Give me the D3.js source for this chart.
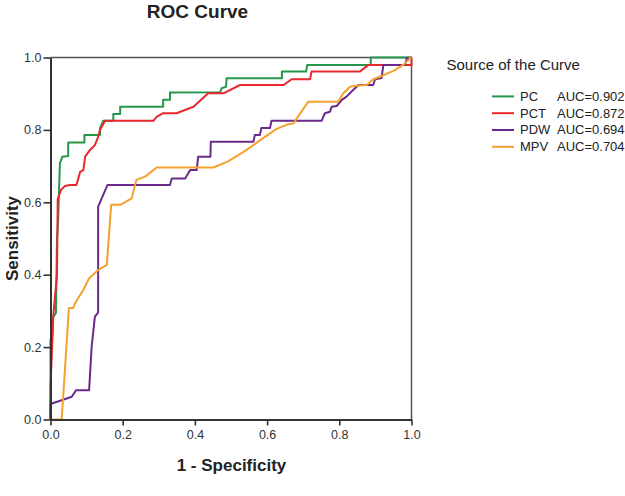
<!DOCTYPE html>
<html>
<head>
<meta charset="utf-8">
<script src="https://cdn.jsdelivr.net/npm/d3@7"></script>
<style>
  html, body { margin: 0; padding: 0; background: #fff; }
  svg { display: block; font-family: "Liberation Sans", Arial, sans-serif; }
</style>
</head>
<body>
<svg id="chart" width="625" height="496"></svg>
<script>
// ---- Data ----
const seriesNames = ["PC", "PCT", "PDW", "MPV"];
const aucLabels = ["AUC=0.902", "AUC=0.872", "AUC=0.694", "AUC=0.704"];
const seriesColors = ["#25964a", "#e8282d", "#6b2a8a", "#f4a12f"];
const tickValues = [0, 0.2, 0.4, 0.6, 0.8, 1.0];

// [1 - specificity, sensitivity]
const pcPoints = [
  [0,0],[0,0.22],[0.005,0.233],[0.005,0.28],[0.015,0.294],[0.018,0.496],[0.021,0.546],
  [0.026,0.708],[0.033,0.726],[0.049,0.728],[0.049,0.765],[0.094,0.765],[0.094,0.786],
  [0.137,0.786],[0.137,0.804],[0.146,0.825],[0.174,0.825],[0.174,0.844],[0.193,0.844],
  [0.193,0.864],[0.312,0.864],[0.312,0.883],[0.331,0.883],[0.331,0.903],[0.470,0.904],
  [0.474,0.915],[0.486,0.919],[0.488,0.943],[0.641,0.943],[0.641,0.961],[0.708,0.961],
  [0.711,0.979],[0.887,0.979],[0.887,1.0],[1,1]
];
const pctPoints = [
  [0,0],[0,0.09],[0.004,0.19],[0.008,0.29],[0.018,0.40],[0.02,0.609],[0.029,0.634],
  [0.04,0.645],[0.054,0.648],[0.072,0.648],[0.082,0.684],[0.091,0.689],[0.096,0.726],
  [0.109,0.744],[0.123,0.758],[0.132,0.781],[0.137,0.800],[0.151,0.825],[0.285,0.825],
  [0.294,0.836],[0.312,0.846],[0.349,0.846],[0.396,0.864],[0.437,0.901],[0.479,0.901],
  [0.525,0.924],[0.646,0.924],[0.668,0.940],[0.719,0.940],[0.723,0.961],[0.857,0.961],
  [0.880,0.979],[1,0.979],[1,1]
];
const pdwPoints = [
  [0,0],[0,0.043],[0.059,0.063],[0.071,0.081],[0.107,0.081],[0.114,0.201],[0.123,0.284],
  [0.132,0.296],[0.132,0.588],[0.158,0.648],[0.331,0.648],[0.336,0.666],[0.373,0.666],
  [0.387,0.689],[0.405,0.689],[0.409,0.726],[0.443,0.726],[0.444,0.767],[0.562,0.767],
  [0.566,0.786],[0.580,0.786],[0.584,0.805],[0.608,0.805],[0.612,0.825],[0.751,0.825],
  [0.760,0.846],[0.774,0.850],[0.779,0.864],[0.793,0.866],[0.807,0.883],[0.820,0.892],
  [0.834,0.906],[0.848,0.919],[0.853,0.924],[0.894,0.924],[0.899,0.940],[0.917,0.943],
  [0.922,0.979],[0.982,0.979],[0.987,0.998],[1,1]
];
const mpvPoints = [
  [0,0],[0.031,0],[0.051,0.308],[0.063,0.308],[0.068,0.321],[0.082,0.344],[0.091,0.358],
  [0.107,0.390],[0.132,0.413],[0.156,0.427],[0.168,0.593],[0.193,0.593],[0.225,0.611],
  [0.238,0.662],[0.262,0.671],[0.294,0.696],[0.451,0.696],[0.492,0.713],[0.539,0.742],
  [0.580,0.771],[0.625,0.802],[0.654,0.814],[0.673,0.818],[0.714,0.878],[0.797,0.878],
  [0.811,0.901],[0.830,0.919],[0.846,0.922],[0.876,0.924],[0.894,0.940],[0.917,0.949],
  [0.954,0.965],[0.979,0.981],[0.996,0.998],[1,1]
];
const allSeries = [pcPoints, pctPoints, pdwPoints, mpvPoints];

// ---- Layout ----
const svg = d3.select("#chart");
const plotL = 50.5, plotR = 411.5, plotT = 57.5, plotB = 419.5;

const x = d3.scaleLinear().domain([0, 1]).range([plotL, plotR]);
const y = d3.scaleLinear().domain([0, 1]).range([plotB, plotT]);

// frame (top & right)
svg.append("path")
  .attr("d", `M${plotL},${plotT}H${plotR}V${plotB}`)
  .attr("fill", "none").attr("stroke", "#555").attr("stroke-width", 1.5);

// curves
const line = d3.line().x(d => x(d[0])).y(d => y(d[1])).curve(d3.curveLinear);
allSeries.forEach((pts, i) => {
  svg.append("path")
    .datum(pts)
    .attr("d", line)
    .attr("fill", "none")
    .attr("stroke", seriesColors[i])
    .attr("stroke-width", 2)
    .attr("stroke-linejoin", "round");
});

// axes
const fmt = d3.format(".1f");
const xAxis = svg.append("g")
  .attr("transform", `translate(0,${plotB})`)
  .call(d3.axisBottom(x).tickValues(tickValues).tickFormat(fmt).tickSize(6).tickSizeOuter(0));
const yAxis = svg.append("g")
  .attr("transform", `translate(${plotL},0)`)
  .call(d3.axisLeft(y).tickValues(tickValues).tickFormat(fmt).tickSize(7).tickSizeOuter(0));

[xAxis, yAxis].forEach(g => {
  g.select(".domain").attr("stroke", "#333").attr("stroke-width", 2);
  g.selectAll(".tick line").attr("stroke", "#333").attr("stroke-width", 1.6);
  g.selectAll(".tick text")
    .attr("fill", "#333")
    .style("font-family", "'Liberation Sans', Arial, sans-serif")
    .style("font-size", "12.5px");
});
xAxis.selectAll(".tick text").attr("dy", "0.9em").attr("y", 8);
yAxis.selectAll(".tick text").attr("x", -9);

// title
svg.append("text")
  .attr("x", 197.5).attr("y", 17.5)
  .attr("text-anchor", "middle")
  .attr("font-weight", "bold").attr("font-size", 19).attr("fill", "#222")
  .text("ROC Curve");

// x axis label
svg.append("text")
  .attr("x", 231.5).attr("y", 470.5)
  .attr("text-anchor", "middle")
  .attr("font-weight", "bold").attr("font-size", 17).attr("fill", "#222")
  .text("1 - Specificity");

// y axis label
svg.append("text")
  .attr("transform", "translate(18,238.5) rotate(-90)")
  .attr("text-anchor", "middle")
  .attr("font-weight", "bold").attr("font-size", 17).attr("fill", "#222")
  .text("Sensitivity");

// legend
svg.append("text")
  .attr("x", 446.5).attr("y", 69.5)
  .attr("font-size", 15).attr("fill", "#222")
  .text("Source of the Curve");

const legend = svg.append("g");
seriesNames.forEach((name, i) => {
  const by = 100.7 + i * 16.8;
  legend.append("line")
    .attr("x1", 492).attr("x2", 514)
    .attr("y1", by - 4.3).attr("y2", by - 4.3)
    .attr("stroke", seriesColors[i]).attr("stroke-width", 2);
  legend.append("text")
    .attr("x", 520).attr("y", by)
    .attr("font-size", 13).attr("fill", "#222")
    .text(name);
  legend.append("text")
    .attr("x", 557).attr("y", by)
    .attr("font-size", 13).attr("fill", "#222")
    .text(aucLabels[i]);
});
</script>
</body>
</html>
